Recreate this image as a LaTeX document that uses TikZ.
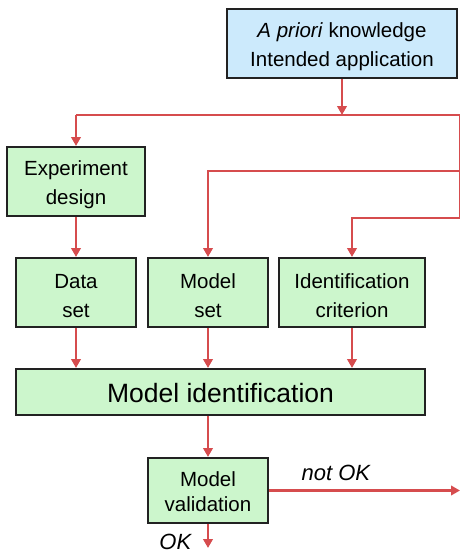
\documentclass[tikz,border=0pt]{standalone}
\usepackage{fontspec}
\setmainfont{Liberation Sans}
\usetikzlibrary{arrows.meta}
\definecolor{redline}{RGB}{214,76,78}
\definecolor{gfill}{RGB}{204,246,204}
\definecolor{bfill}{RGB}{204,234,252}
\definecolor{bord}{RGB}{34,34,34}
\newcommand{\firstup}{\rule{0pt}{21pt}}
\begin{document}
\begin{tikzpicture}[x=1pt,y=-1pt,
  box/.style={draw=bord, line width=2pt, align=center, inner sep=0pt,
    font=\fontsize{20.5}{29}\selectfont},
  gbox/.style={box, fill=gfill},
  conn/.style={draw=redline, line width=2.8pt},
  arr/.style={conn, -{Triangle[length=9pt,width=9.5pt]}},
  lbl/.style={font=\fontsize{22}{26}\selectfont\itshape}]
\useasboundingbox (0,0) rectangle (460,555);
\node[box, fill=bfill, minimum width=230pt, minimum height=69pt] (top) at (342,43.5) {\firstup\textit{A priori} knowledge\\Intended application};
\node[gbox, minimum width=138pt, minimum height=69pt] (exp) at (76,181.5) {\firstup Experiment\\design};
\node[gbox, minimum width=120pt, minimum height=69pt] (data) at (76,292.5) {\firstup Data\\set};
\node[gbox, minimum width=120pt, minimum height=69pt] (mset) at (208,292.5) {\firstup Model\\set};
\node[gbox, minimum width=146pt, minimum height=69pt] (crit) at (352,292.5) {\firstup Identification\\criterion};
\node[gbox, minimum width=409pt, minimum height=46pt, font=\fontsize{26.5}{30}\selectfont] (mi) at (220.5,392) {\rule{0pt}{21pt}Model identification};
\node[gbox, minimum width=120pt, minimum height=65pt, font=\fontsize{20.5}{25}\selectfont] (val) at (208,490.5) {\rule{0pt}{17pt}Model\\validation};
\coordinate (r1) at (460,115);
\coordinate (r2) at (460,171);
\coordinate (r3) at (460,218);
\coordinate (r4) at (460,490.5);
\coordinate (ok) at (208,548);
\coordinate (l1) at (exp.north |- r1);
\draw[conn] (l1) -- (r1) -- (r3);
\draw[arr] (top.south) -- (top.south |- r1);
\draw[arr] (l1) -- (exp.north);
\draw[arr] (r2) -| (mset.north);
\draw[arr] (r3) -| (crit.north);
\draw[arr] (exp.south) -- (data.north);
\draw[arr] (data.south) -- (data.south |- mi.north);
\draw[arr] (mset.south) -- (mset.south |- mi.north);
\draw[arr] (crit.south) -- (crit.south |- mi.north);
\draw[arr] (mi.south -| val.north) -- (val.north);
\draw[arr] (val.east) -- (r4) node[lbl, pos=0.35, above=5pt] (nok) {not OK};
\draw[arr] (val.south) -- (ok) node[lbl, pos=0.75, left=12pt] (okl) {OK};
\end{tikzpicture}
\end{document}
